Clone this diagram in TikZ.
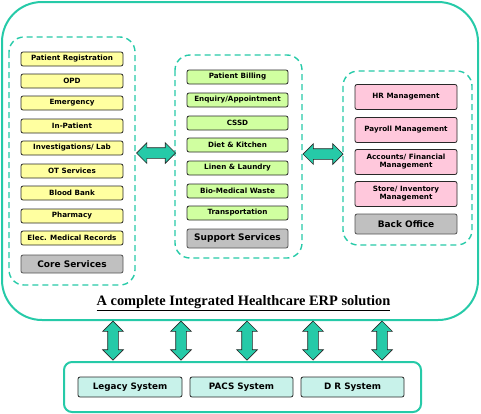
\documentclass[tikz,border=0pt]{standalone}
\usepackage{fontspec}
\setmainfont{Liberation Serif}
\newfontfamily\boxfont{DejaVu Sans}
\usetikzlibrary{shapes.arrows}
\definecolor{teal1}{RGB}{38,202,168}
\definecolor{yel}{RGB}{255,255,160}
\definecolor{grn}{RGB}{208,255,160}
\definecolor{pnk}{RGB}{255,200,220}
\definecolor{gry}{RGB}{192,192,192}
\definecolor{cyn}{RGB}{200,242,234}
\definecolor{outl}{RGB}{40,40,40}
\tikzset{
  item/.style={draw=outl, line width=0.8pt, rounded corners=2pt, inner sep=0pt, align=center,
    font=\boxfont\bfseries\fontsize{7.2}{8}\selectfont},
  yitem/.style={item, fill=yel, minimum width=102pt, minimum height=14pt},
  gitem/.style={item, fill=grn, minimum width=101pt, minimum height=14pt},
  pitem/.style={item, fill=pnk, minimum width=102pt, minimum height=25pt},
  hitem/.style={item, fill=gry, draw=outl!80, font=\boxfont\bfseries\fontsize{9}{10}\selectfont},
  sitem/.style={item, fill=cyn, minimum width=103pt, minimum height=20pt, font=\boxfont\bfseries\fontsize{8.8}{10}\selectfont},
  group/.style={draw=teal1, line width=1.4pt, dash pattern=on 6pt off 4pt, rounded corners=15pt},
  frame/.style={draw=teal1, line width=2pt},
  darr/.style={double arrow, draw=outl, line width=0.7pt, fill=teal1, inner sep=5pt, minimum width=0pt,
    double arrow head extend=5pt, double arrow head indent=0pt},
}
\begin{document}
\begin{tikzpicture}[x=1pt,y=-1pt]
\useasboundingbox (0,0) rectangle (481,413);
% outer frame
\draw[frame, rounded corners=40pt] (2,2) rectangle (478,320);
% groups
\draw[group] (9,37) rectangle (135,285);
\draw[group] (175,55) rectangle (302,258);
\draw[group] (343,71) rectangle (472,245);
% core services
\node[yitem] (pr) at (72,59) {Patient Registration};
\node[yitem] (opd) at (72,81) {OPD};
\node[yitem] (em) at (72,103) {Emergency};
\node[yitem] (ip) at (72,126) {In-Patient};
\node[yitem] (inv) at (72,148) {Investigations/ Lab};
\node[yitem] (ot) at (72,171) {OT Services};
\node[yitem] (bb) at (72,193) {Blood Bank};
\node[yitem] (ph) at (72,216) {Pharmacy};
\node[yitem] (emr) at (72,238) {Elec. Medical Records};
\node[hitem, minimum width=102pt, minimum height=18pt] (core) at (72,264) {Core Services};
% support services
\node[gitem] (pb) at (237.5,77) {Patient Billing};
\node[gitem] (enq) at (237.5,100) {Enquiry/Appointment};
\node[gitem] (cssd) at (237.5,123) {CSSD};
\node[gitem] (diet) at (237.5,145) {Diet \& Kitchen};
\node[gitem] (lin) at (237.5,168) {Linen \& Laundry};
\node[gitem] (bio) at (237.5,191) {Bio-Medical Waste};
\node[gitem] (tr) at (237.5,213) {Transportation};
\node[hitem, minimum width=101pt, minimum height=19pt] (sup) at (237.5,238.5) {Support Services};
% back office
\node[pitem] (hr) at (406,97) {HR Management};
\node[pitem] (pay) at (406,130) {Payroll Management};
\node[pitem] (acc) at (406,162) {Accounts/ Financial\\Management};
\node[pitem] (st) at (406,194) {Store/ Inventory\\Management};
\node[hitem, minimum width=102pt, minimum height=20pt] (bo) at (406,224) {Back Office};
% horizontal arrows
\node[darr, minimum height=39pt] (a1) at (156,153) {};
\node[darr, minimum height=40pt] (a2) at (323,154) {};
% title
\node[font=\bfseries\fontsize{14.4}{16}\selectfont, inner sep=0pt] (title) at (243.5,303) {\underline{A complete Integrated Healthcare ERP solution}};
% vertical arrows
\foreach \x/\n in {113/v1,181/v2,247/v3,313/v4,382/v5}
  \node[darr, shape border rotate=90, minimum height=39pt] (\n) at (\x,340.5) {};
% bottom box
\draw[frame, rounded corners=8pt] (64,362) rectangle (421,412);
\node[sitem, minimum width=104pt] (leg) at (130,387) {Legacy System};
\node[sitem] (pacs) at (241.5,387) {PACS System};
\node[sitem] (dr) at (352.5,387) {D R System};
\end{tikzpicture}
\end{document}
